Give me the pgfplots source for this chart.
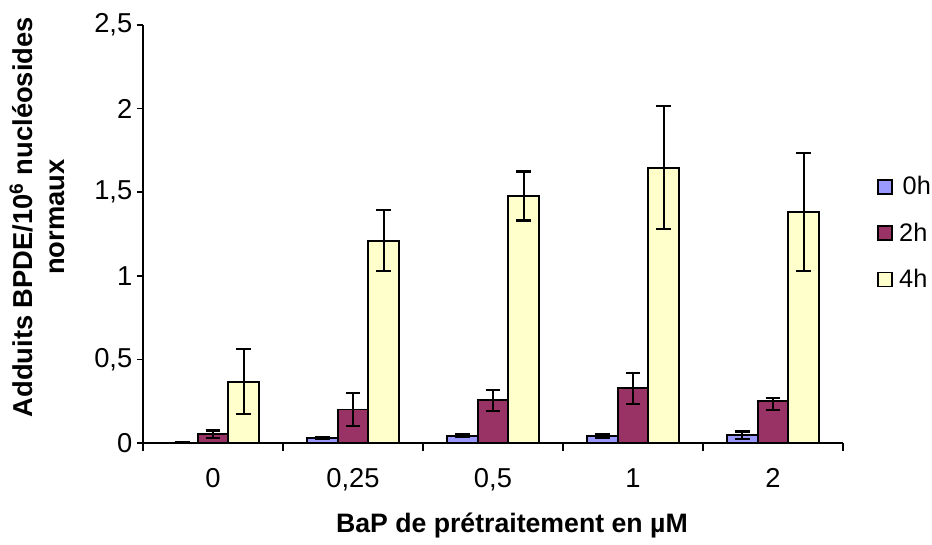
\documentclass[border=0pt]{standalone}
\usepackage{fontspec}
\setmainfont{Liberation Sans}
\usepackage{pgfplots}
\pgfplotsset{compat=1.18}
\definecolor{czero}{HTML}{9999FF}
\definecolor{ctwo}{HTML}{993366}
\definecolor{cfour}{HTML}{FFFFCC}
\begin{document}
\begin{tikzpicture}
\useasboundingbox (-107.25pt,-76.5pt) rectangle (591.75pt,332.25pt);
\begin{axis}[
  at={(0,0)}, anchor=south west,
  scale only axis, width=525pt, height=313.5pt,
  xmin=-0.5, xmax=4.5, ymin=0, ymax=2.5,
  axis x line*=bottom, axis y line*=left,
  axis line style={line width=1.2pt, -},
  ybar=0pt, bar width=0.22,
  xtick={0,1,2,3,4}, xticklabels={0,{0,25},{0,5},1,2},
  minor xtick={-0.5,0.5,1.5,2.5,3.5,4.5},
  major x tick style={draw=none},
  ytick={0,0.5,1,1.5,2,2.5}, yticklabels={0,{0,5},1,{1,5},2,{2,5}},
  tick align=outside, major tick length=4.5pt, minor tick length=6pt,
  tick style={line width=1.1pt, black},
  tick label style={font=\fontsize{20.5}{24}\selectfont},
  xticklabel style={yshift=-11pt},
  xlabel={\bfseries BaP de prétraitement en µM},
  xlabel style={font=\fontsize{20}{24}\selectfont, at={(rel axis cs:0.527,0)}, anchor=center, yshift=-61.5pt},
  ylabel={\bfseries Adduits BPDE/10\textsuperscript{6} nucléosides\\\bfseries normaux},
  ylabel style={font=\fontsize{20.5}{23.5}\selectfont, align=center, at={(rel axis cs:-0.1514,0.54)}, anchor=center},
  legend style={draw=none, fill=none, at={(rel axis cs:1.0486,0.502)}, anchor=west, inner sep=0pt, row sep=15.5pt, font=\fontsize{19}{22}\selectfont, /tikz/every even column/.append style={column sep=1pt}},
  legend image code/.code={\draw[#1, line width=1.3pt] (0pt,-5.25pt) rectangle (10.5pt,5.25pt);},
  every axis plot/.append style={draw=black, line width=1.4pt},
  error bars/error bar style={line width=1.7pt, black},
  error bars/error mark options={rotate=90, mark size=5.5pt, line width=1.7pt, black},
]
\addplot[fill=czero, error bars/.cd, y dir=both, y explicit] coordinates {
  (0,0.003) +- (0,0)
  (1,0.032) +- (0,0.005)
  (2,0.044) +- (0,0.008)
  (3,0.044) +- (0,0.012)
  (4,0.046) +- (0,0.022)
};
\addplot[fill=ctwo, error bars/.cd, y dir=both, y explicit] coordinates {
  (0,0.052) +- (0,0.023)
  (1,0.200) +- (0,0.100)
  (2,0.255) +- (0,0.063)
  (3,0.327) +- (0,0.093)
  (4,0.253) += (0,0.018) -= (0,0.056)
};
\addplot[fill=cfour, error bars/.cd, y dir=both, y explicit] coordinates {
  (0,0.367) +- (0,0.195)
  (1,1.210) +- (0,0.183)
  (2,1.477) +- (0,0.147)
  (3,1.647) +- (0,0.368)
  (4,1.380) +- (0,0.353)
};
\legend{\ 0h, 2h, 4h}
\end{axis}
\end{tikzpicture}
\end{document}
